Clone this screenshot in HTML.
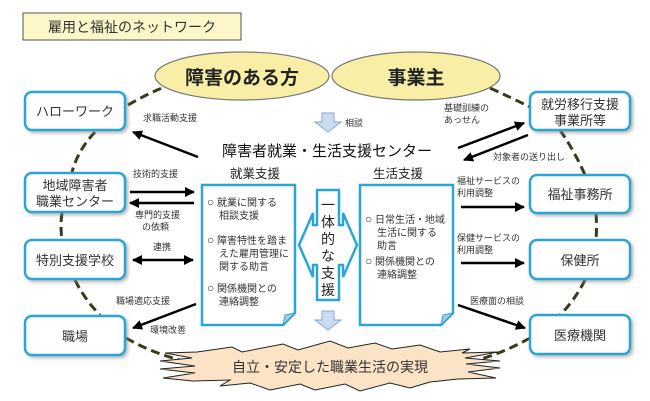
<!DOCTYPE html>
<html><head><meta charset="utf-8"><style>
body{margin:0;background:#fff;}
svg{display:block;font-family:"Liberation Sans","Noto Sans CJK JP",sans-serif;}
</style></head><body>
<svg width="650" height="401" viewBox="0 0 650 401" xmlns="http://www.w3.org/2000/svg">
<defs>
<marker id="ah" viewBox="0 0 10 10" refX="9" refY="5" markerWidth="4" markerHeight="4" orient="auto-start-reverse"><path d="M0,0L10,5L0,10z" fill="#000"/></marker>
<filter id="sh" x="-10%" y="-10%" width="130%" height="140%"><feDropShadow dx="2" dy="2" stdDeviation="1.5" flood-color="#888" flood-opacity="0.6"/></filter>
</defs>
<rect x="23" y="13" width="218" height="27" fill="#fbf7c8" stroke="#555" stroke-width="1"/>
<text x="132" y="32" font-size="14" text-anchor="middle" fill="#333">雇用と福祉のネットワーク</text>

<g fill="none" stroke="#3a3a1a" stroke-width="3" stroke-dasharray="9,5">
<path d="M128,105 Q145,95 162,88"/>
<path d="M95,132 Q78,150 72,172"/>
<path d="M62,213 Q60,226 62,240"/>
<path d="M75,280 Q85,300 100,315"/>
<path d="M126,338 Q150,352 180,360"/>
<path d="M490,88 Q512,98 530,107"/>
<path d="M560,130 Q575,152 585,175"/>
<path d="M596,214 Q597,226 596,240"/>
<path d="M585,280 Q575,300 560,315"/>
<path d="M530,338 Q505,352 478,360"/>
</g>

<ellipse cx="242" cy="76" rx="87" ry="24" fill="#f8eea6" stroke="#777" stroke-width="1.2"/>
<text x="242" y="84" font-size="19" font-weight="bold" text-anchor="middle" fill="#222">障害のある方</text>
<ellipse cx="416" cy="76" rx="84" ry="24" fill="#f8eea6" stroke="#777" stroke-width="1.2"/>
<text x="416" y="84" font-size="19" font-weight="bold" text-anchor="middle" fill="#222">事業主</text>

<g fill="#fff" stroke="#2aa5d6" stroke-width="2.5" filter="url(#sh)">
<rect x="25" y="92" width="100" height="38" rx="7"/>
<rect x="25" y="173" width="100" height="39" rx="7"/>
<rect x="25" y="240" width="100" height="39" rx="7"/>
<rect x="25" y="316" width="100" height="39" rx="7"/>
<rect x="530" y="92" width="100" height="38" rx="7"/>
<rect x="530" y="175" width="100" height="38" rx="7"/>
<rect x="530" y="240" width="100" height="39" rx="7"/>
<rect x="530" y="315" width="100" height="39" rx="7"/>
</g>
<g font-size="13" fill="#333" text-anchor="middle">
<text x="75" y="116">ハローワーク</text>
<text x="75" y="190">地域障害者</text>
<text x="75" y="206">職業センター</text>
<text x="75" y="265">特別支援学校</text>
<text x="75" y="341">職場</text>
<text x="580" y="109">就労移行支援</text>
<text x="580" y="125">事業所等</text>
<text x="580" y="199">福祉事務所</text>
<text x="580" y="265">保健所</text>
<text x="580" y="340">医療機関</text>
</g>

<path d="M322,113 h12 v9 h7 l-13,10 l-13,-10 h7z" fill="#c9dcf2" stroke="#8aa8cc" stroke-width="1"/>
<path d="M322,311 h12 v9 h7 l-13,10 l-13,-10 h7z" fill="#c9dcf2" stroke="#8aa8cc" stroke-width="1"/>
<text x="345" y="126" font-size="9" fill="#333">相談</text>

<text x="327" y="156" font-size="15" text-anchor="middle" fill="#111">障害者就業・生活支援センター</text>
<text x="255" y="178" font-size="12.5" text-anchor="middle" fill="#222">就業支援</text>
<text x="398" y="178" font-size="12.5" text-anchor="middle" fill="#222">生活支援</text>

<path d="M202,185 h93 v128 l-12,12 h-81z" fill="#fff" stroke="#2aa5d6" stroke-width="2.5"/>
<path d="M295,313 l-12,12 l2,-10z" fill="#a8c8e0" stroke="#2aa5d6" stroke-width="1"/>
<path d="M360,185 h93 v128 l-12,12 h-81z" fill="#fff" stroke="#2aa5d6" stroke-width="2.5"/>
<path d="M453,313 l-12,12 l2,-10z" fill="#a8c8e0" stroke="#2aa5d6" stroke-width="1"/>
<g font-size="10" fill="#333">
<text x="207" y="206"><tspan font-size="12">○</tspan> 就業に関する</text>
<text x="219" y="219">相談支援</text>
<text x="207" y="244"><tspan font-size="12">○</tspan> 障害特性を踏ま</text>
<text x="219" y="257">えた雇用管理に</text>
<text x="219" y="270">関する助言</text>
<text x="207" y="292"><tspan font-size="12">○</tspan> 関係機関との</text>
<text x="219" y="305">連絡調整</text>
<text x="365" y="223"><tspan font-size="12">○</tspan> 日常生活・地域</text>
<text x="377" y="236">生活に関する</text>
<text x="377" y="249">助言</text>
<text x="365" y="265"><tspan font-size="12">○</tspan> 関係機関との</text>
<text x="377" y="278">連絡調整</text>
</g>

<path d="M317,190 h22 v35 h4 v-12 l14,32 l-14,32 v-12 h-4 v35 h-22 v-35 h-4 v12 l-14,-32 l14,-32 v12 h4z" fill="#fff" stroke="#2aa5d6" stroke-width="2.5"/>
<g font-size="14" fill="#222" text-anchor="middle">
<text x="328" y="210">一</text><text x="328" y="227">体</text><text x="328" y="244">的</text><text x="328" y="261">な</text><text x="328" y="278">支</text><text x="328" y="295">援</text>
</g>

<g stroke="#000" stroke-width="2.5" fill="none" marker-end="url(#ah)">
<line x1="198" y1="157" x2="133" y2="132"/>
<line x1="130" y1="192" x2="194" y2="192"/>
<line x1="194" y1="203" x2="130" y2="203"/>
<line x1="133" y1="260" x2="193" y2="260" marker-start="url(#ah)"/>
<line x1="196" y1="304" x2="133" y2="328"/>
<line x1="458" y1="148" x2="524" y2="123"/>
<line x1="528" y1="135" x2="464" y2="160"/>
<line x1="461" y1="207" x2="524" y2="207"/>
<line x1="461" y1="263" x2="524" y2="263"/>
<line x1="458" y1="305" x2="525" y2="328"/>
</g>
<g font-size="9" fill="#333">
<text x="143" y="121">求職活動支援</text>
<text x="133" y="177">技術的支援</text>
<text x="135" y="218">専門的支援</text>
<text x="142" y="230">の依頼</text>
<text x="153" y="250">連携</text>
<text x="116" y="304">職場適応支援</text>
<text x="150" y="333">環境改善</text>
<text x="444" y="111">基礎訓練の</text>
<text x="444" y="123">あっせん</text>
<text x="493" y="160">対象者の送り出し</text>
<text x="457" y="184">福祉サービスの</text>
<text x="457" y="196">利用調整</text>
<text x="457" y="241">保健サービスの</text>
<text x="457" y="253">利用調整</text>
<text x="470" y="304">医療面の相談</text>
</g>

<path d="M197,352 L232,347 L242,352 L283,344 L298,350 L330,341 L348,348 L375,343 L392,349 L420,345 L440,352 L470,349 L462,353 L498,352 L465,358 L500,361 L466,364 L500,368 L468,372 L496,378 L458,379 L430,382 L410,388 L390,383 L360,391 L345,384 L315,390 L300,384 L270,390 L250,383 L220,386 L230,380 L193,381 L163,378 L195,373 L160,369 L195,366 L160,361 L192,358 L165,353z" fill="#fbe3c6" stroke="#222" stroke-width="1"/>
<text x="330" y="372" font-size="14" text-anchor="middle" fill="#333">自立・安定した職業生活の実現</text>
</svg>
</body></html>
